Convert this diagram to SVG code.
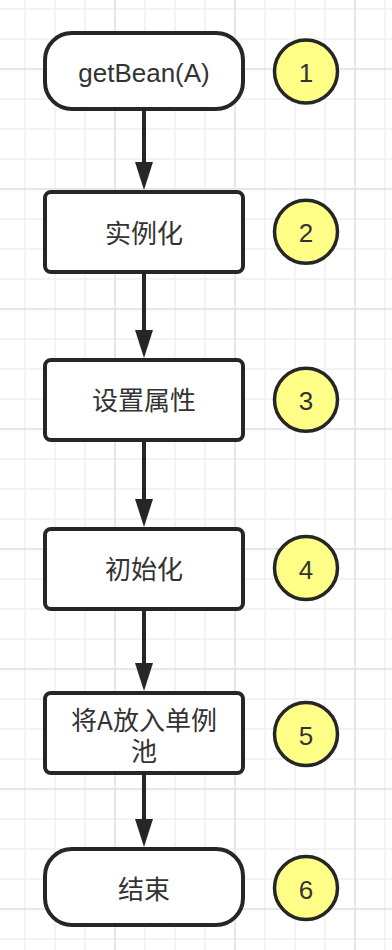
<svg xmlns="http://www.w3.org/2000/svg" width="392" height="950" viewBox="0 0 392 950">
  <style>
    .node { fill: #ffffff; stroke: #262626; stroke-width: 4; }
    .badge { fill: #ffff88; stroke: #262626; stroke-width: 3.5; }
    .label { font-family: "Liberation Sans", "Noto Sans CJK SC", sans-serif; font-size: 26px; fill: #333333; text-anchor: middle; }
    .cjk { font-family: "Noto Sans CJK SC", "Liberation Sans", sans-serif; }
    .edge { stroke: #262626; stroke-width: 4; fill: none; }
    .head { fill: #262626; stroke: none; }
  </style>
  <defs>
    <pattern id="gridMinor" width="30" height="30" x="10" y="-6" patternUnits="userSpaceOnUse">
      <path d="M15 0V30M0 15H30" stroke="#efefef" stroke-width="1.5" fill="none"/>
    </pattern>
    <pattern id="gridMajor" width="120" height="120" x="55" y="9" patternUnits="userSpaceOnUse">
      <path d="M60 0V120M0 60H120" stroke="#e3e3e3" stroke-width="1.5" fill="none"/>
    </pattern>
  </defs>
  <rect x="0" y="0" width="392" height="950" fill="#ffffff"/>
  <rect x="0" y="0" width="392" height="950" fill="url(#gridMinor)"/>
  <rect x="0" y="0" width="392" height="950" fill="url(#gridMajor)"/>

  <g id="connectors">
    <g id="e1"><line class="edge" x1="144" y1="110" x2="144" y2="166"/><polygon class="head" points="135,162 153,162 144,190"/></g>
    <g id="e2"><line class="edge" x1="144" y1="274" x2="144" y2="334"/><polygon class="head" points="135,330 153,330 144,358"/></g>
    <g id="e3"><line class="edge" x1="144" y1="442" x2="144" y2="503"/><polygon class="head" points="135,499 153,499 144,527"/></g>
    <g id="e4"><line class="edge" x1="144" y1="611" x2="144" y2="667"/><polygon class="head" points="135,663 153,663 144,691"/></g>
    <g id="e5"><line class="edge" x1="144" y1="775" x2="144" y2="823"/><polygon class="head" points="135,819 153,819 144,847"/></g>
  </g>

  <g id="n1">
    <rect class="node" x="45" y="33" width="198" height="76" rx="27" ry="27"/>
    <text class="label" x="144" y="82">getBean(A)</text>
  </g>
  <g id="n2">
    <rect class="node" x="45" y="192" width="198" height="80" rx="6" ry="6"/>
    <text class="label cjk" x="144" y="243">实例化</text>
  </g>
  <g id="n3">
    <rect class="node" x="45" y="360" width="198" height="80" rx="6" ry="6"/>
    <text class="label cjk" x="144" y="410">设置属性</text>
  </g>
  <g id="n4">
    <rect class="node" x="45" y="529" width="198" height="80" rx="6" ry="6"/>
    <text class="label cjk" x="144" y="579">初始化</text>
  </g>
  <g id="n5">
    <rect class="node" x="45" y="693" width="198" height="80" rx="6" ry="6"/>
    <text class="label cjk" x="144" y="730">将A放入单例</text>
    <text class="label cjk" x="144" y="761">池</text>
  </g>
  <g id="n6">
    <rect class="node" x="45" y="849" width="198" height="76" rx="27" ry="27"/>
    <text class="label cjk" x="144" y="899">结束</text>
  </g>

  <g id="b1"><circle class="badge" cx="306" cy="71.5" r="31.5"/><text class="label" x="306" y="82">1</text></g>
  <g id="b2"><circle class="badge" cx="306" cy="231.7" r="31.5"/><text class="label" x="306" y="242">2</text></g>
  <g id="b3"><circle class="badge" cx="306" cy="399.7" r="31.5"/><text class="label" x="306" y="410">3</text></g>
  <g id="b4"><circle class="badge" cx="306" cy="568" r="31.5"/><text class="label" x="306" y="578.5">4</text></g>
  <g id="b5"><circle class="badge" cx="306" cy="734" r="31.5"/><text class="label" x="306" y="744.5">5</text></g>
  <g id="b6"><circle class="badge" cx="306" cy="888" r="31.5"/><text class="label" x="306" y="898.5">6</text></g>
</svg>
